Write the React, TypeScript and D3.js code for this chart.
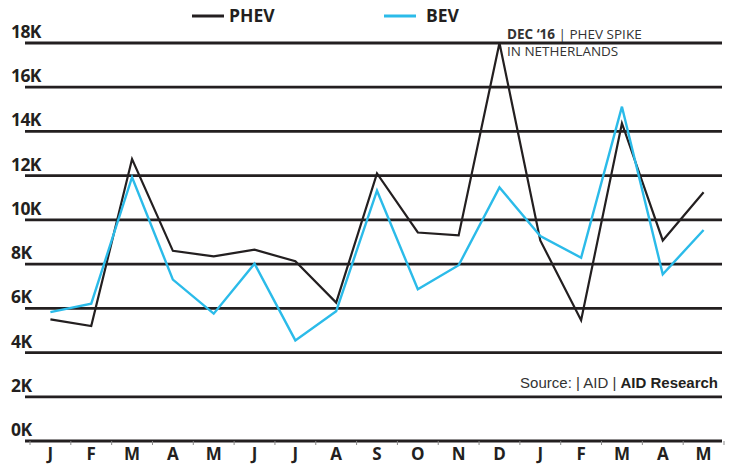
import React, { useEffect, useRef } from "react";
import * as d3 from "d3";

const months = ["J", "F", "M", "A", "M", "J", "J", "A", "S", "O", "N", "D", "J", "F", "M", "A", "M"];
const phev = [5500, 5200, 12750, 8600, 8350, 8650, 8130, 6260, 12100, 9430, 9300, 18000, 9070, 5460, 14370, 9070, 11250];
const bev = [5830, 6210, 11930, 7300, 5760, 8020, 4550, 5870, 11320, 6860, 7950, 11470, 9270, 8290, 15120, 7540, 9540];
const yTicks = [0, 2000, 4000, 6000, 8000, 10000, 12000, 14000, 16000, 18000];

const W = 730;
const H = 464;
const ink = "#231f20";
const blue = "#2bbbe9";

const App = () => {
  const svgRef = useRef<SVGSVGElement>(null);

  useEffect(() => {
    const svg = d3.select(svgRef.current);
    svg.selectAll("*").remove();

    // scales
    const x = d3
      .scaleBand()
      .domain(months.map((m, i) => String(i)))
      .range([30, 724]);
    const y = d3.scaleLinear().domain([0, 18000]).range([441, 43]);
    const cx = (i) => x(String(i)) + x.bandwidth() / 2;

    // grid lines and y labels
    const grid = svg.append("g");
    grid
      .selectAll("line")
      .data(yTicks)
      .join("line")
      .attr("x1", 25)
      .attr("x2", 722)
      .attr("y1", (d) => y(d))
      .attr("y2", (d) => y(d))
      .attr("stroke", ink)
      .attr("stroke-width", 2.8);
    grid
      .selectAll("text")
      .data(yTicks)
      .join("text")
      .attr("x", 11)
      .attr("y", (d) => y(d) - 5)
      .attr("font-family", "'Open Sans', sans-serif")
      .attr("font-weight", 700)
      .attr("font-size", 17.5)
      .attr("letter-spacing", -0.6)
      .attr("fill", ink)
      .text((d) => d / 1000 + "K");

    // x axis ticks + labels
    const xa = svg.append("g");
    xa.selectAll("line")
      .data(d3.range(months.length + 1))
      .join("line")
      .attr("x1", (i) => 30 + i * x.step())
      .attr("x2", (i) => 30 + i * x.step())
      .attr("y1", y(0))
      .attr("y2", y(0) + 4)
      .attr("stroke", "#888")
      .attr("stroke-width", 1);
    xa.selectAll("text")
      .data(months)
      .join("text")
      .attr("x", (d, i) => cx(i))
      .attr("y", 460)
      .attr("text-anchor", "middle")
      .attr("font-family", "'Open Sans', sans-serif")
      .attr("font-weight", 700)
      .attr("font-size", 17)
      .attr("fill", ink)
      .text((d) => d);

    // lines
    const line = d3
      .line()
      .x((d, i) => cx(i))
      .y((d) => y(d));

    svg
      .append("path")
      .attr("d", line(phev))
      .attr("fill", "none")
      .attr("stroke", ink)
      .attr("stroke-width", 2.2)
      .attr("stroke-linejoin", "miter");
    svg
      .append("path")
      .attr("d", line(bev))
      .attr("fill", "none")
      .attr("stroke", blue)
      .attr("stroke-width", 2.4)
      .attr("stroke-linejoin", "miter");

    // legend
    const legend = [
      { name: "PHEV", color: ink, x: 192 },
      { name: "BEV", color: blue, x: 384 },
    ];
    const lg = svg.selectAll(".lg").data(legend).join("g").attr("transform", (d) => `translate(${d.x},16)`);
    lg.append("line").attr("x1", 0).attr("x2", 32).attr("stroke", (d) => d.color).attr("stroke-width", 3);
    lg.append("text")
      .attr("x", (d) => (d.name === "PHEV" ? 37 : 42))
      .attr("y", 6)
      .attr("font-family", "'Open Sans', sans-serif")
      .attr("font-weight", 700)
      .attr("font-size", 17.5)
      .attr("fill", ink)
      .text((d) => d.name);

    // annotation
    const note = svg
      .append("text")
      .attr("x", 507)
      .attr("y", 39)
      .attr("font-family", "'Open Sans', sans-serif")
      .attr("font-size", 13.5)
      .attr("fill", "#333");
    note.append("tspan").attr("font-weight", 700).text("DEC \u201816 ");
    note.append("tspan").text("| PHEV SPIKE");
    svg
      .append("text")
      .attr("x", 507)
      .attr("y", 56)
      .attr("font-family", "'Open Sans', sans-serif")
      .attr("font-size", 13.5)
      .attr("fill", "#333")
      .text("IN NETHERLANDS");

    // source
    const src = svg
      .append("text")
      .attr("x", 718)
      .attr("y", 388)
      .attr("text-anchor", "end")
      .attr("font-family", "'Liberation Sans', Arial, sans-serif")
      .attr("font-size", 15)
      .attr("fill", "#333");
    src.append("tspan").text("Source:  |  AID  |  ");
    src.append("tspan").attr("font-weight", 700).attr("fill", ink).text("AID Research");
  }, []);

  return (
    <svg
      ref={svgRef}
      width={W}
      height={H}
      style={{ position: "absolute", left: 0, top: 0, background: "#fff" }}
    ></svg>
  );
};

export default App;
